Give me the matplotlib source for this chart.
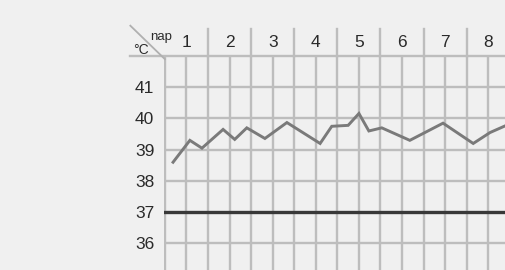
import matplotlib
matplotlib.use("Agg")
import matplotlib.pyplot as plt

# Data
days = [1, 2, 3, 4, 5, 6, 7, 8]
day_labels = ["1", "2", "3", "4", "5", "6", "7", "8"]
temp_ticks = [36, 37, 38, 39, 40, 41]
x_pos = [0.19, 0.58, 0.86, 1.35, 1.62, 1.90, 2.32, 2.83, 3.60, 3.87, 4.25,
         4.50, 4.73, 5.03, 5.68, 6.45, 7.15, 7.54, 7.95]
temps = [38.6, 39.3, 39.05, 39.65, 39.33, 39.7, 39.36, 39.87, 39.2, 39.75, 39.78,
         40.16, 39.6, 39.7, 39.3, 39.85, 39.2, 39.55, 39.8]
normal_temp = 37

plt.rcParams['font.family'] = ['Liberation Sans', 'DejaVu Sans']

W, H = 506, 270
fig = plt.figure(figsize=(W / 100, H / 100), dpi=100)
bg = "#f0f0f0"
fig.patch.set_facecolor(bg)

left_px, right_px, top_px = 164, 506, 56
ax = fig.add_axes([left_px / W, 0, (right_px - left_px) / W, (H - top_px) / H])
ax.set_facecolor(bg)
ax.set_xlim(-0.02, 7.91)
ax.set_ylim(35.15, 42)

grid_c = "#bdbdbd"
grid_w = 1.7
for i in range(0, 17):
    ax.axvline(i * 0.5, color=grid_c, lw=grid_w, zorder=1)
for t in temp_ticks:
    if t != normal_temp:
        ax.axhline(t, color=grid_c, lw=grid_w, zorder=1)
ax.axhline(normal_temp, color="#383838", lw=2.4, zorder=3)

ax.plot(x_pos, temps, color="#7a7a7a", lw=2.1, zorder=4, solid_joinstyle="miter")

for s in ax.spines.values():
    s.set_visible(False)

ax.set_yticks(temp_ticks)
ax.set_yticklabels([str(t) for t in temp_ticks])
ax.tick_params(axis="y", length=0, pad=7, labelsize=12.5, labelcolor="#2a2a2a")
ax.set_xticks([])

# header: day boundaries and labels
for d in days:
    ax.plot([d, d], [42, 42.86], color=grid_c, lw=grid_w, clip_on=False, zorder=1)
    ax.text(d - 0.5, 42.43, day_labels[d - 1], ha="center", va="center",
            fontsize=12.5, color="#2a2a2a", clip_on=False)
ax.plot([-0.8, 8], [42, 42], color=grid_c, lw=grid_w, clip_on=False, zorder=1)

# corner diagonal
ax.plot([-0.80, 0.0], [42.97, 41.90], color="#b0b0b0", lw=1.3, clip_on=False)
ax.text(-0.08, 42.6, "nap", ha="center", va="center", fontsize=9.5,
        color="#2a2a2a", clip_on=False)
ax.text(-0.55, 42.2, "°C", ha="center", va="center", fontsize=10,
        color="#2a2a2a", clip_on=False)

fig.savefig("out.png", dpi=100, facecolor=bg)
